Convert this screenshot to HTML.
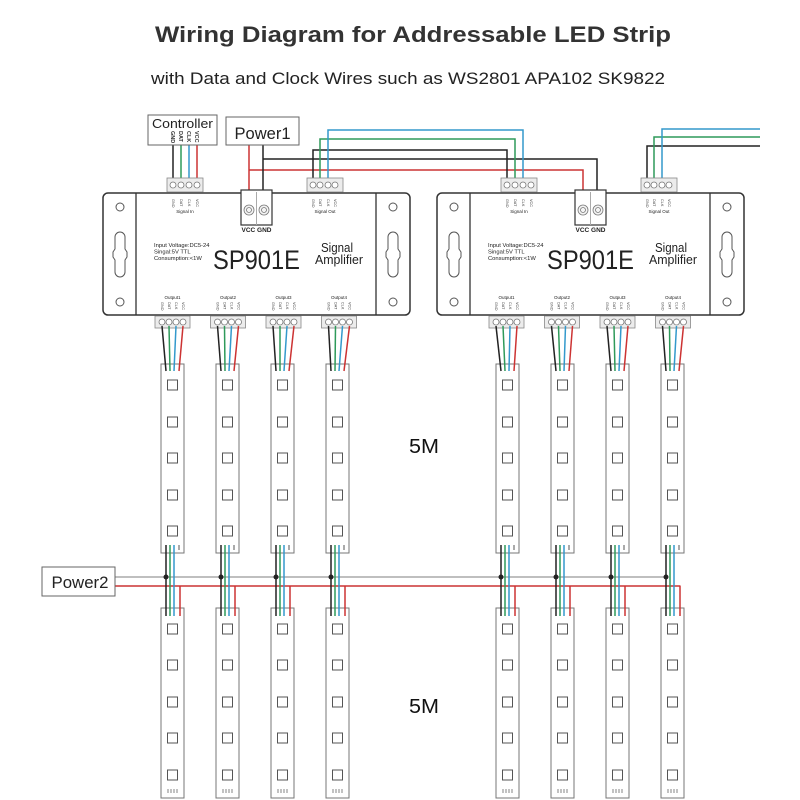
<!DOCTYPE html>
<html><head><meta charset="utf-8"><style>
html,body{margin:0;padding:0;background:#fff;}
svg{display:block;}
text{font-family:"Liberation Sans",sans-serif;}
</style></head><body>
<svg width="800" height="800" viewBox="0 0 800 800" xmlns="http://www.w3.org/2000/svg">
<defs>
<g id="dev">
 <rect x="103" y="193" width="307" height="122" rx="5" fill="#fff" stroke="#333" stroke-width="1.5"/>
 <line x1="136" y1="193" x2="136" y2="315" stroke="#333" stroke-width="1.3"/>
 <line x1="376" y1="193" x2="376" y2="315" stroke="#333" stroke-width="1.3"/>
 <g fill="none" stroke="#555" stroke-width="1">
  <circle cx="120" cy="207" r="4"/><circle cx="120" cy="302" r="4"/>
  <circle cx="393" cy="207" r="4"/><circle cx="393" cy="302" r="4"/>
  <path d="M120,232 a5,5 0 0 0 -5,5 v12 l-2,3 v5 l2,3 v12 a5,5 0 0 0 10,0 v-12 l2,-3 v-5 l-2,-3 v-12 a5,5 0 0 0 -5,-5 z"/>
  <path d="M393,232 a5,5 0 0 0 -5,5 v12 l-2,3 v5 l2,3 v12 a5,5 0 0 0 10,0 v-12 l2,-3 v-5 l-2,-3 v-12 a5,5 0 0 0 -5,-5 z"/>
 </g>
 <rect x="241" y="190" width="31" height="35" fill="#fff" stroke="#333" stroke-width="1.2"/>
 <line x1="256.5" y1="192" x2="256.5" y2="225" stroke="#aaa" stroke-width="1"/>
 <g fill="#f4f4f4" stroke="#777" stroke-width="0.8">
  <circle cx="249" cy="210" r="5"/><circle cx="264" cy="210" r="5"/>
  <circle cx="249" cy="210" r="2.5"/><circle cx="264" cy="210" r="2.5"/>
 </g>
 <g fill="#ececec" stroke="#888" stroke-width="0.8">
  <rect x="167" y="178" width="36" height="14"/>
  <rect x="307" y="178" width="36" height="14"/>
  <rect x="155" y="316" width="35" height="12"/>
  <rect x="210.5" y="316" width="35" height="12"/>
  <rect x="266" y="316" width="35" height="12"/>
  <rect x="321.5" y="316" width="35" height="12"/>
 </g>
 <g fill="#fff" stroke="#777" stroke-width="0.8">
  <circle cx="173" cy="185" r="3"/><circle cx="181" cy="185" r="3"/><circle cx="189" cy="185" r="3"/><circle cx="197" cy="185" r="3"/>
  <circle cx="313" cy="185" r="3"/><circle cx="320" cy="185" r="3"/><circle cx="328" cy="185" r="3"/><circle cx="335" cy="185" r="3"/>
  <circle cx="162" cy="322" r="3"/><circle cx="169" cy="322" r="3"/><circle cx="176" cy="322" r="3"/><circle cx="183" cy="322" r="3"/>
  <circle cx="217.5" cy="322" r="3"/><circle cx="224.5" cy="322" r="3"/><circle cx="231.5" cy="322" r="3"/><circle cx="238.5" cy="322" r="3"/>
  <circle cx="273" cy="322" r="3"/><circle cx="280" cy="322" r="3"/><circle cx="287" cy="322" r="3"/><circle cx="294" cy="322" r="3"/>
  <circle cx="328.5" cy="322" r="3"/><circle cx="335.5" cy="322" r="3"/><circle cx="342.5" cy="322" r="3"/><circle cx="349.5" cy="322" r="3"/>
 </g>
</g>
<g id="stT">
 <rect x="0" y="0" width="23" height="189" fill="#fff" stroke="#777" stroke-width="1"/>
 <g fill="none" stroke="#555" stroke-width="1">
  <rect x="6.5" y="16" width="10" height="10"/><rect x="6.5" y="53" width="10" height="10"/>
  <rect x="6.5" y="89" width="10" height="10"/><rect x="6.5" y="126" width="10" height="10"/>
  <rect x="6.5" y="162" width="10" height="10"/>
 </g>
 <line x1="18" y1="181" x2="18" y2="186" stroke="#555" stroke-width="1"/>
</g>
<g id="stB">
 <rect x="0" y="0" width="23" height="190" fill="#fff" stroke="#777" stroke-width="1"/>
 <g fill="none" stroke="#555" stroke-width="1">
  <rect x="6.5" y="16" width="10" height="10"/><rect x="6.5" y="52" width="10" height="10"/>
  <rect x="6.5" y="89" width="10" height="10"/><rect x="6.5" y="125" width="10" height="10"/>
  <rect x="6.5" y="162" width="10" height="10"/>
 </g>
 <g stroke="#666" stroke-width="0.8">
  <line x1="7" y1="181" x2="7" y2="185"/><line x1="10" y1="181" x2="10" y2="185"/>
  <line x1="13" y1="181" x2="13" y2="185"/><line x1="16" y1="181" x2="16" y2="185"/>
 </g>
</g>
</defs>

<text x="413" y="42" font-size="22" font-weight="bold" fill="#333" text-anchor="middle" textLength="516" lengthAdjust="spacingAndGlyphs">Wiring Diagram for Addressable LED Strip</text>
<text x="408" y="84" font-size="16.5" fill="#222" text-anchor="middle" textLength="514" lengthAdjust="spacingAndGlyphs">with Data and Clock Wires such as WS2801 APA102 SK9822</text>

<!-- top wires -->
<g fill="none" stroke-width="1.5">
 <line x1="173" y1="145" x2="173" y2="183" stroke="#222"/>
 <line x1="181" y1="145" x2="181" y2="183" stroke="#2e9a5a"/>
 <line x1="189" y1="145" x2="189" y2="183" stroke="#3399cc"/>
 <line x1="197" y1="145" x2="197" y2="183" stroke="#cc3333"/>
 <polyline points="249,145 249,194" stroke="#cc3333"/>
 <polyline points="249,170 583,170 583,194" stroke="#cc3333"/>
 <polyline points="263,145 263,194" stroke="#222"/>
 <polyline points="263,159 597,159 597,194" stroke="#222"/>
 <polyline points="313,183 313,150 507,150 507,183" stroke="#222"/>
 <polyline points="320,183 320,139 515,139 515,183" stroke="#2e9a5a"/>
 <polyline points="328,183 328,130 523,130 523,183" stroke="#3399cc"/>
 <polyline points="647,183 647,146 760,146" stroke="#222"/>
 <polyline points="654,183 654,137 760,137" stroke="#2e9a5a"/>
 <polyline points="662,183 662,129 760,129" stroke="#3399cc"/>
</g>

<use href="#dev"/>
<use href="#dev" x="334"/>

<!-- Controller / Power1 -->
<rect x="148" y="115" width="69" height="30" fill="#fff" stroke="#666" stroke-width="1"/>
<text x="182.5" y="128" font-size="13" fill="#222" text-anchor="middle" textLength="61" lengthAdjust="spacingAndGlyphs">Controller</text>
<g font-size="5.5" font-weight="bold" fill="#333">
 <text transform="translate(171,131) rotate(90)">GND</text>
 <text transform="translate(179,131) rotate(90)">DAT</text>
 <text transform="translate(187,131) rotate(90)">CLK</text>
 <text transform="translate(195,131) rotate(90)">VCC</text>
</g>
<rect x="226" y="117" width="73" height="28" fill="#fff" stroke="#666" stroke-width="1"/>
<text x="262.5" y="139" font-size="17" fill="#222" text-anchor="middle" textLength="56" lengthAdjust="spacingAndGlyphs">Power1</text>

<!-- device texts left -->
<g fill="#222">
 <text x="256.5" y="232" font-size="6.5" font-weight="bold" text-anchor="middle">VCC GND</text>
 <text x="185" y="213" font-size="4.5" text-anchor="middle">Signal In</text>
 <text x="325" y="213" font-size="4.5" text-anchor="middle">Signal Out</text>
 <text x="154" y="247" font-size="5.8">Input Voltage:DC5-24</text>
 <text x="154" y="253.5" font-size="5.8">Singal:5V TTL</text>
 <text x="154" y="260" font-size="5.8">Consumption:&lt;1W</text>
 <text x="213" y="269" font-size="27" textLength="87" lengthAdjust="spacingAndGlyphs">SP901E</text>
 <text x="321" y="252" font-size="12.5" textLength="32" lengthAdjust="spacingAndGlyphs">Signal</text>
 <text x="315" y="264" font-size="12.5" textLength="48" lengthAdjust="spacingAndGlyphs">Amplifier</text>
 <text x="172.5" y="299" font-size="4.5" text-anchor="middle">Output1</text>
 <text x="228" y="299" font-size="4.5" text-anchor="middle">Output2</text>
 <text x="283.5" y="299" font-size="4.5" text-anchor="middle">Output3</text>
 <text x="339" y="299" font-size="4.5" text-anchor="middle">Output4</text>
 <!-- right device -->
 <text x="590.5" y="232" font-size="6.5" font-weight="bold" text-anchor="middle">VCC GND</text>
 <text x="519" y="213" font-size="4.5" text-anchor="middle">Signal In</text>
 <text x="659" y="213" font-size="4.5" text-anchor="middle">Signal Out</text>
 <text x="488" y="247" font-size="5.8">Input Voltage:DC5-24</text>
 <text x="488" y="253.5" font-size="5.8">Singal:5V TTL</text>
 <text x="488" y="260" font-size="5.8">Consumption:&lt;1W</text>
 <text x="547" y="269" font-size="27" textLength="87" lengthAdjust="spacingAndGlyphs">SP901E</text>
 <text x="655" y="252" font-size="12.5" textLength="32" lengthAdjust="spacingAndGlyphs">Signal</text>
 <text x="649" y="264" font-size="12.5" textLength="48" lengthAdjust="spacingAndGlyphs">Amplifier</text>
 <text x="506.5" y="299" font-size="4.5" text-anchor="middle">Output1</text>
 <text x="562" y="299" font-size="4.5" text-anchor="middle">Output2</text>
 <text x="617.5" y="299" font-size="4.5" text-anchor="middle">Output3</text>
 <text x="673" y="299" font-size="4.5" text-anchor="middle">Output4</text>
</g>
<!-- tiny pin labels -->
<g font-size="3.8" fill="#333">
 <text transform="translate(172,199) rotate(90)">GND</text><text transform="translate(180,199) rotate(90)">DAT</text><text transform="translate(188,199) rotate(90)">CLK</text><text transform="translate(196,199) rotate(90)">VCC</text>
 <text transform="translate(312,199) rotate(90)">GND</text><text transform="translate(319,199) rotate(90)">DAT</text><text transform="translate(327,199) rotate(90)">CLK</text><text transform="translate(334,199) rotate(90)">VCC</text>
 <text transform="translate(506,199) rotate(90)">GND</text><text transform="translate(514,199) rotate(90)">DAT</text><text transform="translate(522,199) rotate(90)">CLK</text><text transform="translate(530,199) rotate(90)">VCC</text>
 <text transform="translate(646,199) rotate(90)">GND</text><text transform="translate(653,199) rotate(90)">DAT</text><text transform="translate(661,199) rotate(90)">CLK</text><text transform="translate(668,199) rotate(90)">VCC</text>
 <text transform="translate(161,302) rotate(90)">GND</text><text transform="translate(168,302) rotate(90)">DAT</text><text transform="translate(175,302) rotate(90)">CLK</text><text transform="translate(182,302) rotate(90)">VCC</text>
 <text transform="translate(216.5,302) rotate(90)">GND</text><text transform="translate(223.5,302) rotate(90)">DAT</text><text transform="translate(230.5,302) rotate(90)">CLK</text><text transform="translate(237.5,302) rotate(90)">VCC</text>
 <text transform="translate(272,302) rotate(90)">GND</text><text transform="translate(279,302) rotate(90)">DAT</text><text transform="translate(286,302) rotate(90)">CLK</text><text transform="translate(293,302) rotate(90)">VCC</text>
 <text transform="translate(327.5,302) rotate(90)">GND</text><text transform="translate(334.5,302) rotate(90)">DAT</text><text transform="translate(341.5,302) rotate(90)">CLK</text><text transform="translate(348.5,302) rotate(90)">VCC</text>
 <text transform="translate(495,302) rotate(90)">GND</text><text transform="translate(502,302) rotate(90)">DAT</text><text transform="translate(509,302) rotate(90)">CLK</text><text transform="translate(516,302) rotate(90)">VCC</text>
 <text transform="translate(550.5,302) rotate(90)">GND</text><text transform="translate(557.5,302) rotate(90)">DAT</text><text transform="translate(564.5,302) rotate(90)">CLK</text><text transform="translate(571.5,302) rotate(90)">VCC</text>
 <text transform="translate(606,302) rotate(90)">GND</text><text transform="translate(613,302) rotate(90)">DAT</text><text transform="translate(620,302) rotate(90)">CLK</text><text transform="translate(627,302) rotate(90)">VCC</text>
 <text transform="translate(661.5,302) rotate(90)">GND</text><text transform="translate(668.5,302) rotate(90)">DAT</text><text transform="translate(675.5,302) rotate(90)">CLK</text><text transform="translate(682.5,302) rotate(90)">VCC</text>
</g>

<!-- strips -->
<use href="#stT" x="161" y="364"/><use href="#stT" x="216" y="364"/><use href="#stT" x="271" y="364"/><use href="#stT" x="326" y="364"/>
<use href="#stT" x="496" y="364"/><use href="#stT" x="551" y="364"/><use href="#stT" x="606" y="364"/><use href="#stT" x="661" y="364"/>
<use href="#stB" x="161" y="608"/><use href="#stB" x="216" y="608"/><use href="#stB" x="271" y="608"/><use href="#stB" x="326" y="608"/>
<use href="#stB" x="496" y="608"/><use href="#stB" x="551" y="608"/><use href="#stB" x="606" y="608"/><use href="#stB" x="661" y="608"/>

<!-- output wires to strips -->
<g stroke-width="1.5" fill="none">
 <g stroke="#222">
  <line x1="162" y1="326" x2="166" y2="371"/><line x1="217.5" y1="326" x2="221" y2="371"/><line x1="273" y1="326" x2="276" y2="371"/><line x1="328.5" y1="326" x2="331" y2="371"/>
  <line x1="496" y1="326" x2="501" y2="371"/><line x1="551.5" y1="326" x2="556" y2="371"/><line x1="607" y1="326" x2="611" y2="371"/><line x1="662.5" y1="326" x2="666" y2="371"/>
 </g>
 <g stroke="#2e9a5a">
  <line x1="169" y1="326" x2="170" y2="371"/><line x1="224.5" y1="326" x2="225" y2="371"/><line x1="280" y1="326" x2="280" y2="371"/><line x1="335.5" y1="326" x2="335" y2="371"/>
  <line x1="503" y1="326" x2="505" y2="371"/><line x1="558.5" y1="326" x2="560" y2="371"/><line x1="614" y1="326" x2="615" y2="371"/><line x1="669.5" y1="326" x2="670" y2="371"/>
 </g>
 <g stroke="#3399cc">
  <line x1="176" y1="326" x2="174" y2="371"/><line x1="231.5" y1="326" x2="229" y2="371"/><line x1="287" y1="326" x2="284" y2="371"/><line x1="342.5" y1="326" x2="339" y2="371"/>
  <line x1="510" y1="326" x2="509" y2="371"/><line x1="565.5" y1="326" x2="564" y2="371"/><line x1="621" y1="326" x2="619" y2="371"/><line x1="676.5" y1="326" x2="674" y2="371"/>
 </g>
 <g stroke="#cc3333">
  <line x1="183" y1="326" x2="179" y2="371"/><line x1="238.5" y1="326" x2="234" y2="371"/><line x1="294" y1="326" x2="289" y2="371"/><line x1="349.5" y1="326" x2="344" y2="371"/>
  <line x1="517" y1="326" x2="514" y2="371"/><line x1="572.5" y1="326" x2="569" y2="371"/><line x1="628" y1="326" x2="624" y2="371"/><line x1="683.5" y1="326" x2="679" y2="371"/>
 </g>
</g>

<!-- Power2 bus -->
<line x1="115" y1="577" x2="666" y2="577" stroke="#999" stroke-width="1.3"/>
<line x1="115" y1="586" x2="680.5" y2="586" stroke="#cc3333" stroke-width="1.5"/>
<rect x="42" y="567" width="73" height="29" fill="#fff" stroke="#666" stroke-width="1"/>
<text x="80" y="588" font-size="16.5" fill="#222" text-anchor="middle" textLength="57" lengthAdjust="spacingAndGlyphs">Power2</text>

<g stroke-width="1.5">
 <g stroke="#222">
  <line x1="166" y1="545" x2="166" y2="616"/><line x1="221" y1="545" x2="221" y2="616"/><line x1="276" y1="545" x2="276" y2="616"/><line x1="331" y1="545" x2="331" y2="616"/>
  <line x1="501" y1="545" x2="501" y2="616"/><line x1="556" y1="545" x2="556" y2="616"/><line x1="611" y1="545" x2="611" y2="616"/><line x1="666" y1="545" x2="666" y2="616"/>
 </g>
 <g stroke="#2e9a5a">
  <line x1="170" y1="545" x2="170" y2="616"/><line x1="225" y1="545" x2="225" y2="616"/><line x1="280" y1="545" x2="280" y2="616"/><line x1="335" y1="545" x2="335" y2="616"/>
  <line x1="505" y1="545" x2="505" y2="616"/><line x1="560" y1="545" x2="560" y2="616"/><line x1="615" y1="545" x2="615" y2="616"/><line x1="670" y1="545" x2="670" y2="616"/>
 </g>
 <g stroke="#3399cc">
  <line x1="174" y1="545" x2="174" y2="616"/><line x1="229" y1="545" x2="229" y2="616"/><line x1="284" y1="545" x2="284" y2="616"/><line x1="339" y1="545" x2="339" y2="616"/>
  <line x1="509" y1="545" x2="509" y2="616"/><line x1="564" y1="545" x2="564" y2="616"/><line x1="619" y1="545" x2="619" y2="616"/><line x1="674" y1="545" x2="674" y2="616"/>
 </g>
 <g stroke="#cc3333">
  <line x1="180" y1="586" x2="180" y2="616"/><line x1="235" y1="586" x2="235" y2="616"/><line x1="290" y1="586" x2="290" y2="616"/><line x1="345" y1="586" x2="345" y2="616"/>
  <line x1="515" y1="586" x2="515" y2="616"/><line x1="570" y1="586" x2="570" y2="616"/><line x1="625" y1="586" x2="625" y2="616"/><line x1="680" y1="586" x2="680" y2="616"/>
 </g>
</g>
<g fill="#222">
 <circle cx="166" cy="577" r="2.5"/><circle cx="221" cy="577" r="2.5"/><circle cx="276" cy="577" r="2.5"/><circle cx="331" cy="577" r="2.5"/>
 <circle cx="501" cy="577" r="2.5"/><circle cx="556" cy="577" r="2.5"/><circle cx="611" cy="577" r="2.5"/><circle cx="666" cy="577" r="2.5"/>
</g>

<text x="424" y="453" font-size="20" fill="#111" text-anchor="middle" textLength="30" lengthAdjust="spacingAndGlyphs">5M</text>
<text x="424" y="713" font-size="20" fill="#111" text-anchor="middle" textLength="30" lengthAdjust="spacingAndGlyphs">5M</text>
</svg>
</body></html>
